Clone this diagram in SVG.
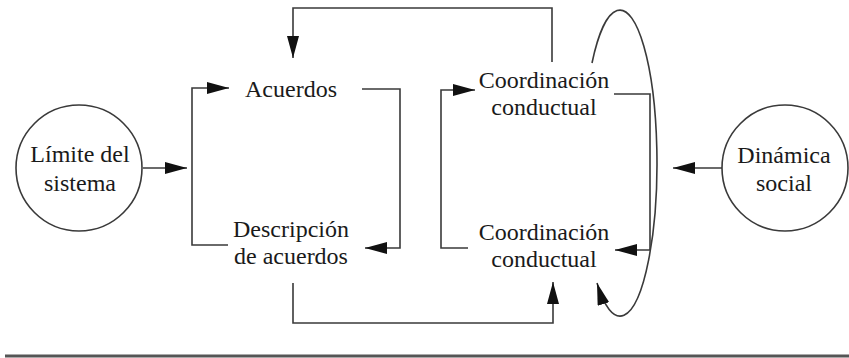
<svg xmlns="http://www.w3.org/2000/svg" width="849" height="358" viewBox="0 0 849 358">
<style>
.ln{fill:none;stroke:#3a3a3a;stroke-width:1.6}
.arr{marker-end:url(#ah)}
.nd{fill:none;stroke:#3a3a3a;stroke-width:1.6}
.t{font-size:24px;fill:#1a1a1a;text-anchor:middle}
</style>
<defs>
<marker id="ah" markerUnits="userSpaceOnUse" markerWidth="24" markerHeight="14" refX="22" refY="6" orient="auto">
<path d="M0,0 L22,6 L0,12 z" fill="#111"/>
</marker>
</defs>
<rect width="849" height="358" fill="#fff"/>
<g font-family="'Liberation Serif', 'Times New Roman', 'DejaVu Serif', serif">
<g id="limite">
<circle class="nd" cx="79" cy="168" r="63"/>
<text class="t" x="80" y="162">Límite del</text>
<text class="t" x="80" y="191">sistema</text>
</g>
<g id="acuerdos">
<text class="t" x="291" y="97">Acuerdos</text>
</g>
<g id="descripcion">
<text class="t" x="291" y="237">Descripción</text>
<text class="t" x="291" y="264">de acuerdos</text>
</g>
<g id="coord-top">
<text class="t" x="544" y="88">Coordinación</text>
<text class="t" x="544" y="115">conductual</text>
</g>
<g id="coord-bottom">
<text class="t" x="544" y="240">Coordinación</text>
<text class="t" x="544" y="267">conductual</text>
</g>
<g id="dinamica">
<circle class="nd" cx="785" cy="168" r="63"/>
<text class="t" x="784" y="163">Dinámica</text>
<text class="t" x="784" y="191">social</text>
</g>
</g>
<g id="connectors">
<path class="ln arr" d="M143,168 H187"/>
<path class="ln arr" d="M228,245 H192 V88 H229"/>
<path class="ln arr" d="M362,89 H400 V248 H365"/>
<path class="ln arr" d="M552,62 V8 H293 V58"/>
<path class="ln arr" d="M293,283 V323 H553 V282"/>
<path class="ln arr" d="M468,248 H441 V90 H475"/>
<path class="ln arr" d="M614,94 H650 V250 H615"/>
<path class="ln arr" d="M592,63 A37,153 0 1 1 597,283"/>
<path class="ln arr" d="M722,168 H673"/>
</g>
<line x1="5" y1="356" x2="849" y2="356" stroke="#555" stroke-width="3"/>
</svg>
